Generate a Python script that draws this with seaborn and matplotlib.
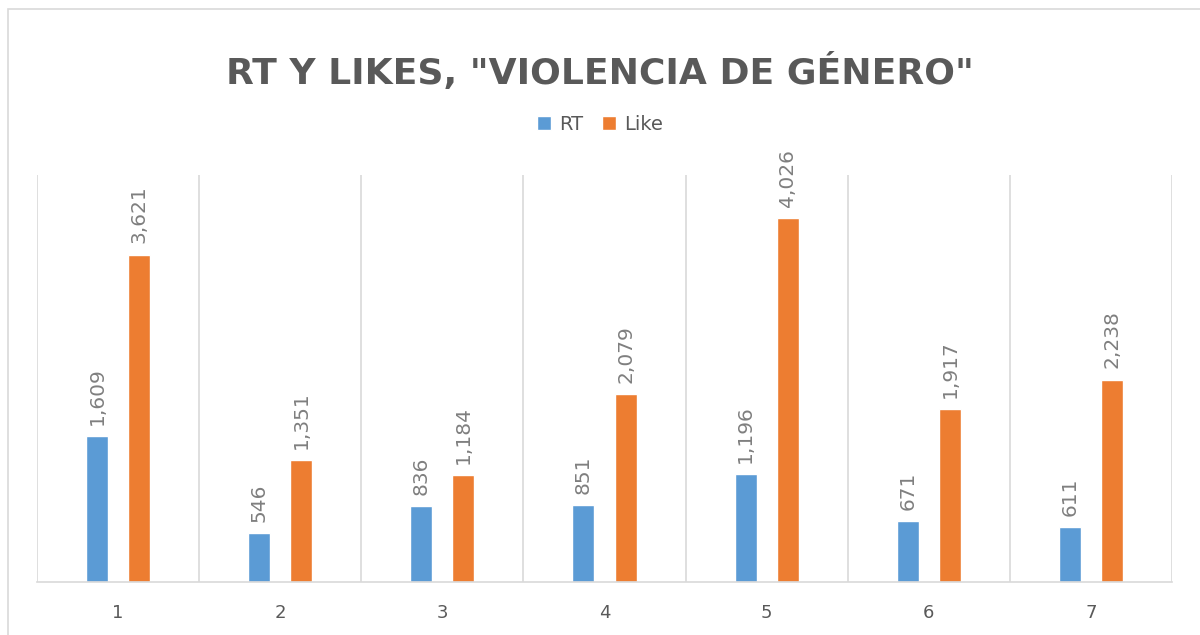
import matplotlib
matplotlib.use("Agg")
import matplotlib.pyplot as plt
import numpy as np
import pandas as pd
import seaborn as sns
from matplotlib.patches import Rectangle

categories = ["1", "2", "3", "4", "5", "6", "7"]
rt_values = [1609, 546, 836, 851, 1196, 671, 611]
like_values = [3621, 1351, 1184, 2079, 4026, 1917, 2238]
series_names = ["RT", "Like"]
colors = ["#5B9BD5", "#ED7D31"]

df = pd.DataFrame({
    "cat": categories * 2,
    "serie": [series_names[0]] * len(categories) + [series_names[1]] * len(categories),
    "valor": rt_values + like_values,
})

sns.set_style("white")
plt.rcParams["font.family"] = ["DejaVu Sans"]

fig = plt.figure(figsize=(12, 6.35), dpi=100)
ax = fig.add_axes([37 / 1200, 53 / 635, 1135 / 1200, 407 / 635])

sns.barplot(data=df, x="cat", y="valor", hue="serie", order=categories,
            hue_order=series_names, palette=colors, width=0.52, gap=0.48,
            saturation=1, ax=ax, legend=True)

ax.set_ylim(0, 4500)
ax.set_xlim(-0.5, len(categories) - 0.5)
ax.set_yticks([])
ax.set_xlabel("")
ax.set_ylabel("")
for s in ["top", "right", "left"]:
    ax.spines[s].set_visible(False)
ax.spines["bottom"].set_color("#d9d9d9")
ax.spines["bottom"].set_linewidth(1.2)
for x in np.arange(-0.5, len(categories), 1.0):
    ax.axvline(x, color="#d9d9d9", lw=1.2, zorder=0)
ax.tick_params(axis="x", length=0, pad=16, labelsize=13, labelcolor="#595959")

# etiquetas de datos
for cont in ax.containers:
    ax.bar_label(cont, labels=[f"{int(v):,}" for v in cont.datavalues],
                 rotation=90, padding=8, fontsize=14.5, color="#7f7f7f")

leg = ax.legend(loc="center", bbox_to_anchor=(600 / 1200, 1 - 124 / 635),
                bbox_transform=fig.transFigure, ncol=2, frameon=False,
                fontsize=14, handlelength=0.7, handleheight=0.7,
                handletextpad=0.4, columnspacing=1.0)
for t in leg.get_texts():
    t.set_color("#595959")

fig.text(0.5, 1 - 72 / 635, 'RT Y LIKES, "VIOLENCIA DE GÉNERO"', ha="center",
         va="center", fontsize=26, fontweight="bold", color="#595959")

fig.patches.append(Rectangle((8 / 1200, -0.1), 1.2, 1 - 9 / 635 + 0.1,
                             transform=fig.transFigure, fill=False,
                             edgecolor="#d9d9d9", lw=1.2))

fig.savefig("out.png", dpi=100)
